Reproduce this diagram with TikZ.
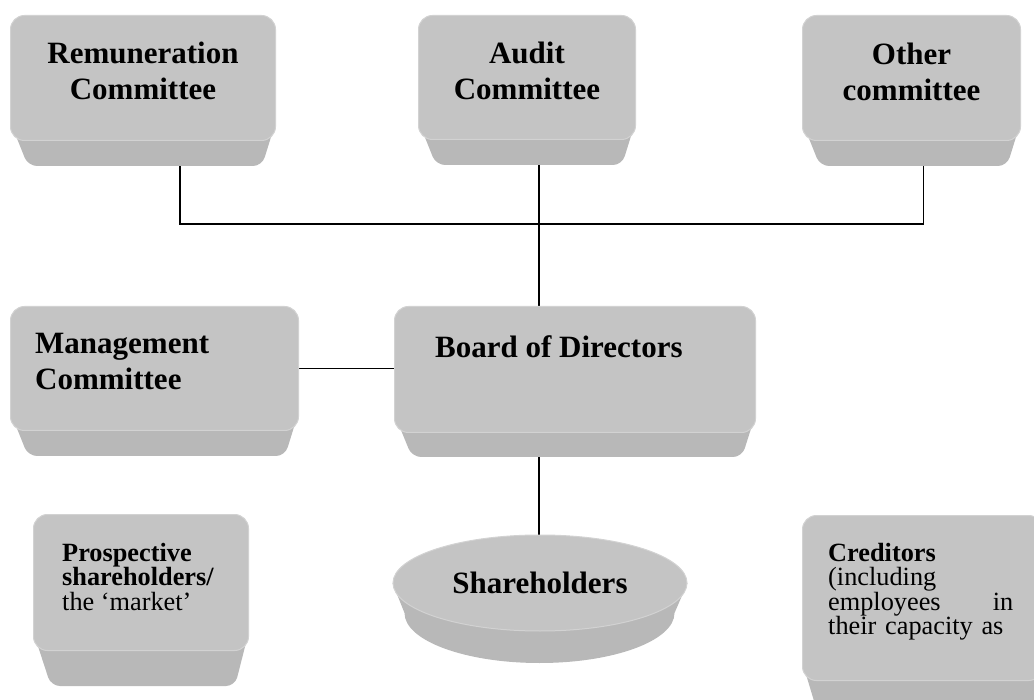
\documentclass[tikz,border=0pt]{standalone}
\usepackage{fontspec}
\setmainfont{Liberation Serif}
\usetikzlibrary{calc,shapes.geometric}
\definecolor{capgray}{HTML}{C4C4C4}
\definecolor{rimgray}{HTML}{D2D2D2}
\definecolor{basegray}{HTML}{999999}
\definecolor{edgegray}{HTML}{B8B8B8}
\newcommand{\bigtxt}{\fontsize{31}{36}\selectfont}
\newcommand{\smalltxt}{\fontsize{26.3}{24.4}\selectfont\lineskiplimit=-100pt}
\pgfdeclarelayer{paper}
\pgfdeclarelayer{wires}
\pgfdeclarelayer{bases}
\pgfsetlayers{paper,wires,bases,main}
\tikzset{
	capface/.style={draw=rimgray, line width=1pt, fill=capgray, rounded corners=14pt, inner sep=0pt, anchor=north west},
	captext/.style={inner sep=0pt, font=\bigtxt\bfseries, align=center, anchor=north},
	capleft/.style={inner sep=0pt, font=\bigtxt\bfseries, align=left, anchor=north west},
	notetext/.style={inner sep=0pt, font=\smalltxt, align=left, anchor=north west},
	basefill/.style={left color=edgegray, middle color=basegray, right color=edgegray},
	link/.style={line width=1.3pt, black}
}
\def\capbase(#1)(#2){\begin{pgfonlayer}{bases}\path[basefill, rounded corners=9pt] ($(#1.south west)+(0,-20)$) -- ($(#1.south west)+(18,#2)$) -- ($(#1.south east)+(-14,#2)$) -- ($(#1.south east)+(0,-20)$) -- cycle;\end{pgfonlayer}}

\begin{document}
\begin{tikzpicture}[x=1pt, y=-1pt]
		%%%%% START %%%%%
		
		\begin{pgfonlayer}{paper}
			\fill[white] (0,0) rectangle (1034,700);
		\end{pgfonlayer}
		\useasboundingbox (0,0) rectangle (1034,700);
		\clip (0,0) rectangle (1034,700);
		
		% committees
		\node[capface, minimum width=265, minimum height=125] (rem) at (10,15) {};
		\node[capface, minimum width=217, minimum height=124] (aud) at (418,15) {};
		\node[capface, minimum width=218, minimum height=125] (oth) at (802,15) {};
		\node[captext] (rem-t) at ($(rem.north)+(0,27)$) {Remuneration\\Committee};
		\node[captext] (aud-t) at ($(aud.north)+(0,27)$) {Audit\\Committee};
		\node[captext] (oth-t) at ($(oth.north)+(0,28)$) {Other\\committee};
		\capbase(rem)(25)
		\capbase(aud)(25)
		\capbase(oth)(25)
		
		% board row
		\node[capface, minimum width=288, minimum height=124] (mgt) at (10,306) {};
		\node[capface, minimum width=361, minimum height=126] (bod) at (394,306) {};
		\node[capleft] (mgt-t) at ($(mgt.north west)+(25,27)$) {Management\\Committee};
		\node[capleft] (bod-t) at ($(bod.north west)+(41,29)$) {Board of Directors};
		\capbase(mgt)(25)
		\capbase(bod)(24)
		
		% bottom row
		\node[capface, minimum width=215, minimum height=136] (pro) at (33,514) {};
		\node[capface, minimum width=240, minimum height=165] (cre) at (802,515) {};
		\node[notetext] (pro-t) at ($(pro.north west)+(29,29)$) {\textbf{Prospective}\\\textbf{shareholders/}\\the ‘market’};
		\node[notetext, text width=185] (cre-t) at ($(cre.north west)+(26,28)$) {\textbf{Creditors}\\(including\\employees\hfill in\\their capacity as};
		\capbase(pro)(35)
		\capbase(cre)(40)
		
		\node[ellipse, fill=capgray, draw=rimgray, line width=1pt, minimum width=294, minimum height=96, inner sep=0pt, font=\bigtxt\bfseries] (sh) at (540,583) {Shareholders};
		\begin{pgfonlayer}{bases}
			\path[basefill] (sh.west) -- ++(12,30) arc[start angle=180, end angle=0, x radius=135, y radius=50] -- (sh.east) -- cycle;
		\end{pgfonlayer}
		
		% connectors
		\coordinate (bus) at (538,224);
		\begin{pgfonlayer}{wires}
			\draw[link] ([xshift=37pt]rem.south) |- (bus) -| ([xshift=12pt]oth.south);
			\draw[link] ([xshift=12pt]aud.south) -- ([xshift=-36pt]bod.north);
			\draw[link] (mgt.east) -- (mgt.east -| bod.west);
			\draw[link] ([xshift=-36pt]bod.south) -- ([xshift=-36pt]bod.south |- sh.center);
		\end{pgfonlayer}
		
		%%%%% END %%%%%
\end{tikzpicture}
\end{document}
